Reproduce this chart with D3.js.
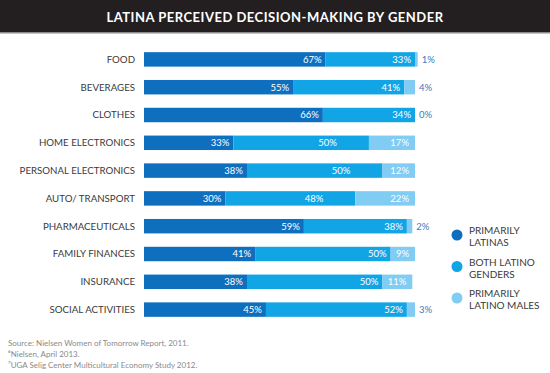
<!DOCTYPE html>
<html>
<head>
<meta charset="utf-8">
<script src="https://cdn.jsdelivr.net/npm/d3@7"></script>
<style>
  body { margin: 0; background: #fff; }
  svg { display: block; }
</style>
</head>
<body>
<div id="viz"></div>
<script>
const categories = ['FOOD', 'BEVERAGES', 'CLOTHES', 'HOME ELECTRONICS', 'PERSONAL ELECTRONICS',
  'AUTO/ TRANSPORT', 'PHARMACEUTICALS', 'FAMILY FINANCES', 'INSURANCE', 'SOCIAL ACTIVITIES'];
const primarilyLatinas = [67, 55, 66, 33, 38, 30, 59, 41, 38, 45];
const bothGenders = [33, 41, 34, 50, 50, 48, 38, 50, 50, 52];
const primarilyMales = [1, 4, 0, 17, 12, 22, 2, 9, 11, 3];
const seriesNames = ['PRIMARILY|LATINAS', 'BOTH LATINO|GENDERS', 'PRIMARILY|LATINO MALES'];
const colors = ['#0e6fbf', '#12a5e6', '#80ccf2'];
const sources = ['Source: Nielsen Women of Tomorrow Report, 2011.',
  '\u2076Nielsen, April 2013.', '\u2077UGA Selig Center Multicultural Economy Study 2012.'];

const W = 550, H = 373;
const svg = d3.select('#viz').append('svg').attr('width', W).attr('height', H);

// title bar
svg.append('rect').attr('x', 0).attr('y', 0).attr('width', W).attr('height', 32).attr('fill', '#231f20');
svg.append('rect').attr('x', 0).attr('y', 32).attr('width', W).attr('height', 1.5).attr('fill', '#8a8a8a');
svg.append('text')
  .attr('x', W / 2).attr('y', 21.5)
  .attr('text-anchor', 'middle')
  .attr('fill', '#fff')
  .attr('font-family', 'Lato')
  .attr('font-weight', 700)
  .attr('font-size', 13)
  .attr('letter-spacing', 0.5)
  .text('LATINA PERCEIVED DECISION-MAKING BY GENDER');

const x = d3.scaleLinear().domain([0, 100]).range([144, 415]);
const y = d3.scaleBand().domain(categories).range([45.5, 323.5]).paddingInner(0.48).paddingOuter(0.24);

const rows = categories.map((c, i) => {
  const vals = [primarilyLatinas[i], bothGenders[i], primarilyMales[i]];
  let acc = 0;
  return vals.map((v, k) => {
    const seg = { cat: c, k, v, x0: acc, x1: acc + v, male: primarilyMales[i] };
    acc += v;
    return seg;
  });
});
const segs = rows.flat();

// category labels
svg.append('g').selectAll('text')
  .data(categories)
  .join('text')
  .attr('x', 135)
  .attr('y', d => y(d) + y.bandwidth() / 2)
  .attr('dy', '0.35em')
  .attr('text-anchor', 'end')
  .attr('fill', '#3a3a3a')
  .attr('font-family', 'Lato')
  .attr('font-size', 9.7)
  .text(d => d);

svg.append('g').selectAll('rect')
  .data(segs.filter(d => d.v > 0))
  .join('rect')
  .attr('x', d => x(d.x0))
  .attr('y', d => y(d.cat))
  .attr('width', d => x(d.x1) - x(d.x0))
  .attr('height', y.bandwidth())
  .attr('fill', d => colors[d.k]);

// small shares go outside the bar, the rest sit right-aligned inside
function labelX(d) {
  if (d.v <= 4) return x(d.x1) + 4;
  if (d.k === 2) return x(d.x1) - 6;
  if (d.k === 1 && d.male >= 12) return x(d.x1) - 32;
  return x(d.x1) - 4;
}

svg.append('g').selectAll('text')
  .data(segs)
  .join('text')
  .attr('x', labelX)
  .attr('y', d => y(d.cat) + y.bandwidth() / 2)
  .attr('dy', '0.36em')
  .attr('text-anchor', d => d.v <= 4 ? 'start' : 'end')
  .attr('fill', d => d.v <= 4 ? '#4079bd' : '#fff')
  .attr('font-family', 'Lato')
  .attr('font-size', 9.5)
  .text(d => d.v + '%');

// legend
const leg = svg.append('g').selectAll('g')
  .data(seriesNames)
  .join('g')
  .attr('transform', (d, i) => `translate(457,${235 + i * 31.5})`);
leg.append('circle').attr('r', 5.5).attr('fill', (d, i) => colors[i]);
leg.append('text')
  .attr('fill', '#3a3a3a')
  .attr('font-family', 'Lato')
  .attr('font-size', 10)
  .selectAll('tspan')
  .data(d => d.split('|'))
  .join('tspan')
  .attr('x', 12)
  .attr('y', (d, i) => -1 + i * 12)
  .text(d => d);

// sources
svg.append('g').selectAll('text')
  .data(sources)
  .join('text')
  .attr('x', 8)
  .attr('y', (d, i) => 346 + i * 11)
  .attr('fill', '#8a8a8a')
  .attr('font-family', 'Lato')
  .attr('font-size', 8)
  .text(d => d);
</script>
</body>
</html>
